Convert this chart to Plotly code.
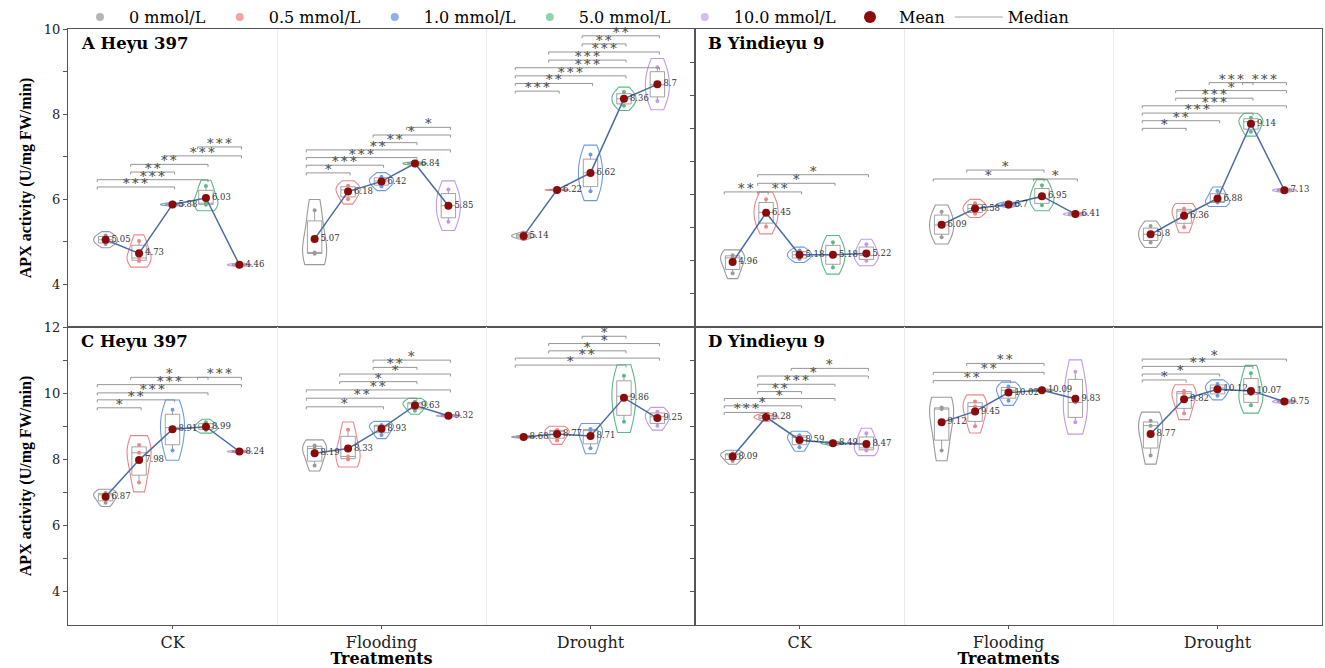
import numpy as np
import plotly.graph_objects as go

categories = ["CK", "Flooding", "Drought"]
concentrations = ["0 mmol/L", "0.5 mmol/L", "1.0 mmol/L", "5.0 mmol/L", "10.0 mmol/L"]
panel_titles = ["A Heyu 397", "B Yindieyu 9", "C Heyu 397", "D Yindieyu 9"]

# replicate values: [category][concentration] -> 3 replicates
A_values = [
    [[4.95, 5.05, 5.15], [4.55, 4.62, 5.02], [5.86, 5.88, 5.90], [5.87, 5.91, 6.31], [4.44, 4.46, 4.48]],
    [[4.72, 4.75, 5.74], [6.00, 6.22, 6.32], [6.30, 6.43, 6.53], [6.82, 6.84, 6.86], [5.47, 5.85, 6.23]],
    [[5.10, 5.14, 5.18], [6.21, 6.22, 6.23], [6.19, 6.62, 7.05], [8.20, 8.36, 8.52], [8.31, 8.69, 9.10]],
]
B_values = [
    [[4.62, 5.09, 5.17], [6.03, 6.46, 6.86], [5.05, 5.18, 5.31], [4.80, 5.18, 5.56], [5.00, 5.16, 5.50]],
    [[5.71, 6.08, 6.48], [6.42, 6.58, 6.74], [6.66, 6.70, 6.74], [6.68, 6.89, 7.28], [6.38, 6.41, 6.44]],
    [[5.55, 5.80, 6.05], [6.01, 6.50, 6.57], [6.76, 6.77, 7.11], [8.90, 9.20, 9.32], [7.10, 7.13, 7.16]],
]
C_values = [
    [[6.69, 6.93, 6.99], [7.30, 8.20, 8.44], [8.27, 8.96, 9.50], [8.89, 8.96, 9.12], [8.22, 8.24, 8.26]],
    [[7.82, 8.33, 8.42], [8.00, 8.09, 8.90], [8.74, 9.01, 9.04], [9.47, 9.68, 9.74], [9.30, 9.32, 9.34]],
    [[8.66, 8.68, 8.70], [8.57, 8.85, 8.89], [8.34, 8.87, 8.92], [9.14, 9.91, 10.53], [9.02, 9.29, 9.44]],
]
D_values = [
    [[7.95, 8.14, 8.18], [9.22, 9.28, 9.34], [8.37, 8.67, 8.73], [8.46, 8.49, 8.52], [8.27, 8.35, 8.79]],
    [[8.27, 9.52, 9.57], [9.00, 9.60, 9.75], [9.77, 10.09, 10.20], [10.07, 10.09, 10.11], [9.12, 9.72, 10.65]],
    [[8.12, 9.02, 9.17], [9.39, 10.00, 10.07], [9.92, 10.16, 10.28], [9.64, 9.97, 10.60], [9.72, 9.75, 9.78]],
]

# significance brackets: (category, group_i, group_j, level, label)
A_sig = [
    (0, 0, 2, 6.29, "***"), (0, 0, 3, 6.46, "***"), (0, 1, 2, 6.64, "**"), (0, 1, 3, 6.82, "**"),
    (0, 2, 4, 7.02, "***"), (0, 3, 4, 7.23, "***"),
    (1, 0, 1, 6.62, "*"), (1, 0, 2, 6.80, "***"), (1, 0, 3, 6.98, "***"), (1, 0, 4, 7.16, "**"),
    (1, 2, 3, 7.33, "**"), (1, 2, 4, 7.51, "*"), (1, 3, 4, 7.69, "*"),
    (2, 0, 1, 8.54, "***"), (2, 0, 2, 8.72, "**"), (2, 0, 3, 8.90, "***"), (2, 0, 4, 9.09, "***"),
    (2, 1, 3, 9.27, "***"), (2, 1, 4, 9.46, "***"), (2, 2, 3, 9.65, "**"), (2, 2, 4, 9.84, "**"),
]
B_sig = [
    (0, 0, 1, 7.08, "**"), (0, 1, 2, 7.08, "**"), (0, 1, 3, 7.34, "*"), (0, 1, 4, 7.60, "*"),
    (1, 0, 3, 7.47, "*"), (1, 3, 4, 7.47, "*"), (1, 1, 3, 7.74, "*"),
    (2, 0, 1, 9.00, "*"), (2, 0, 2, 9.23, "**"), (2, 0, 3, 9.46, "***"), (2, 0, 4, 9.68, "***"),
    (2, 1, 3, 9.91, "***"), (2, 1, 4, 10.14, "*"), (2, 2, 3, 10.38, "***"), (2, 3, 4, 10.38, "***"),
]
C_sig = [
    (0, 0, 1, 9.56, "*"), (0, 0, 2, 9.80, "**"), (0, 0, 3, 10.01, "***"), (0, 0, 4, 10.26, "***"),
    (0, 1, 3, 10.48, "*"), (0, 3, 4, 10.48, "***"),
    (1, 0, 2, 9.59, "*"), (1, 0, 3, 9.85, "**"), (1, 0, 4, 10.10, "**"), (1, 1, 3, 10.35, "*"),
    (1, 1, 4, 10.58, "*"), (1, 2, 3, 10.78, "**"), (1, 2, 4, 11.00, "*"),
    (2, 0, 3, 10.85, "*"), (2, 0, 4, 11.06, "**"), (2, 1, 3, 11.28, "*"), (2, 1, 4, 11.50, "*"),
    (2, 2, 3, 11.72, "*"),
]
D_sig = [
    (0, 0, 1, 9.42, "***"), (0, 0, 2, 9.62, "*"), (0, 0, 3, 9.84, "*"), (0, 1, 2, 10.05, "**"),
    (0, 1, 3, 10.27, "***"), (0, 1, 4, 10.52, "*"), (0, 2, 4, 10.75, "*"),
    (1, 0, 2, 10.38, "**"), (1, 0, 3, 10.63, "**"), (1, 1, 3, 10.90, "**"),
    (2, 0, 1, 10.40, "*"), (2, 0, 2, 10.58, "*"), (2, 0, 3, 10.81, "**"), (2, 0, 4, 11.03, "*"),
]

A_yticks = [4, 5, 6, 7, 8, 9, 10]
A_yticktext = ["4", "", "6", "", "8", "", "10"]
C_yticks = [4, 5, 6, 7, 8, 9, 10, 11, 12]
C_yticktext = ["4", "", "6", "", "8", "", "10", "", "12"]
BD_yticks = [4, 5, 6, 7, 8, 9, 10, 11]

# ---------------- styles ----------------
offsets = [-0.32, -0.16, 0.0, 0.16, 0.32]
line_colors = ["#9a9a9a", "#f08585", "#6c9be6", "#5cba84", "#c29ae6"]
legend_colors = ["#b5b5b5", "#f5a3a3", "#8db2ee", "#92d2ac", "#d6bdf0"]
mean_color = "#8b0a0a"
mean_line_color = "#4a6ca3"
SERIF = "DejaVu Serif"
TIMES = "Liberation Serif"

panels = [
    (A_values, A_sig, "x", "y", (3, 10)),
    (B_values, B_sig, "x2", "y2", (3, 12)),
    (C_values, C_sig, "x3", "y3", (3, 12)),
    (D_values, D_sig, "x4", "y4", (3, 12)),
]
PANEL_H = 298.0


def fmt(v):
    s = f"{v:.2f}".rstrip("0").rstrip(".")
    return s


fig = go.Figure()

for values, sig, xa, ya, yr in panels:
    # violins with inner boxes and points
    for c in range(3):
        for k in range(5):
            vals = values[c][k]
            lo, hi = min(vals), max(vals)
            pad = 0.2 * (hi - lo) + 0.05
            fig.add_trace(go.Violin(
                x=[c + offsets[k]] * len(vals), y=vals, xaxis=xa, yaxis=ya,
                orientation="v", width=0.115, scalemode="width",
                spanmode="manual", span=[lo - pad, hi + pad],
                line=dict(color=line_colors[k], width=1.1),
                fillcolor="rgba(255,255,255,0)",
                box=dict(visible=True, width=0.6, fillcolor="white",
                         line=dict(color="#8c8c8c", width=0.8)),
                meanline=dict(visible=False),
                points="all", pointpos=0, jitter=0,
                marker=dict(size=4, color=line_colors[k]),
                showlegend=False, hoverinfo="skip",
            ))
    # means with connecting line and labels
    for c in range(3):
        xs = [c + o for o in offsets]
        means = [float(np.mean(values[c][k])) for k in range(5)]
        fig.add_trace(go.Scatter(
            x=xs, y=means, xaxis=xa, yaxis=ya, mode="lines+markers+text",
            line=dict(color=mean_line_color, width=1.5),
            marker=dict(color=mean_color, size=8),
            text=[fmt(m) for m in means], textposition="middle right",
            textfont=dict(family=SERIF, size=8.5, color="#333333"),
            showlegend=False, hoverinfo="skip", cliponaxis=False,
        ))
    # significance brackets
    px_per_unit = PANEL_H / (yr[1] - yr[0])
    drop = 2.5 / px_per_unit
    bx, by = [], []
    for (c, i, j, lev, lab) in sig:
        x1 = c + offsets[i] - 0.04
        x2 = c + offsets[j] + 0.01
        bx += [x1, x1, x2, x2, None]
        by += [lev - drop, lev, lev, lev - drop, None]
        fig.add_annotation(
            x=(x1 + x2) / 2, y=lev, xref=xa, yref=ya, text="\u2009".join(lab),
            showarrow=False, yanchor="bottom", yshift=-6,
            font=dict(family=SERIF, size=13, color="#444444"),
        )
    fig.add_trace(go.Scatter(
        x=bx, y=by, xaxis=xa, yaxis=ya, mode="lines",
        line=dict(color="#8a8a8a", width=0.9), showlegend=False, hoverinfo="skip",
    ))

# legend entries
for k in range(5):
    fig.add_trace(go.Scatter(
        x=[None], y=[None], mode="markers", name=concentrations[k],
        marker=dict(size=8, color=legend_colors[k]),
    ))
fig.add_trace(go.Scatter(x=[None], y=[None], mode="markers", name="Mean",
                         marker=dict(size=12, color=mean_color)))
fig.add_trace(go.Scatter(x=[None], y=[None], mode="lines", name="Median",
                         line=dict(color="#d0d0d0", width=2)))

# panel titles
for (values, sig, xa, ya, yr), title in zip(panels, panel_titles):
    fig.add_annotation(
        x=0.017, y=0.99, xref=f"{xa} domain", yref=f"{ya} domain", text=f"<b>{title}</b>",
        showarrow=False, xanchor="left", yanchor="top",
        font=dict(family=SERIF, size=16.5, color="black"),
    )

axis_line = dict(showline=True, linecolor="#555555", linewidth=1.2, mirror=True,
                 zeroline=False, showgrid=False, automargin=False)
minor_grid = dict(tickvals=[0.5, 1.5], showgrid=True, gridcolor="#ebebeb", gridwidth=1, ticks="")

xbase = dict(range=[-0.5, 2.5], tickvals=[0, 1, 2], ticktext=categories, minor=minor_grid, **axis_line)
xtop = dict(xbase, showticklabels=False, ticks="")
xbot = dict(xbase, ticks="outside", ticklen=3, tickcolor="#555555",
            tickfont=dict(family=SERIF, size=16, color="#222222"),
            title=dict(text="<b>Treatments</b>", font=dict(family=SERIF, size=16, color="black"), standoff=2))

ytitle = dict(text="<b>APX activity (U/mg FW/min)</b>", font=dict(family=TIMES, size=16, color="black"), standoff=8)
ybase = dict(ticks="outside", ticklen=4, tickcolor="#555555", tickwidth=1,
             tickfont=dict(family=SERIF, size=13, color="#222222"), **axis_line)

fig.update_layout(
    width=1325, height=668, template="none",
    margin=dict(l=68, r=3, t=29, b=43, autoexpand=False),
    paper_bgcolor="white", plot_bgcolor="white",
    violinmode="overlay",
    xaxis=dict(xtop, domain=[0, 0.5], anchor="y"),
    xaxis2=dict(xtop, domain=[0.5, 1], anchor="y2"),
    xaxis3=dict(xbot, domain=[0, 0.5], anchor="y3"),
    xaxis4=dict(xbot, domain=[0.5, 1], anchor="y4"),
    yaxis=dict(ybase, domain=[0.5, 1], anchor="x", range=[3, 10], tickvals=A_yticks,
               ticktext=A_yticktext, title=ytitle),
    yaxis2=dict(ybase, domain=[0.5, 1], anchor="x2", range=[3, 12], tickvals=BD_yticks,
                showticklabels=False),
    yaxis3=dict(ybase, domain=[0, 0.5], anchor="x3", range=[3, 12], tickvals=C_yticks,
                ticktext=C_yticktext, title=ytitle),
    yaxis4=dict(ybase, domain=[0, 0.5], anchor="x4", range=[3, 12], tickvals=BD_yticks,
                showticklabels=False),
    showlegend=True,
    legend=dict(orientation="h", x=0.0024, xanchor="left", y=1.0201, yanchor="middle",
                font=dict(family=SERIF, size=16, color="black"), bgcolor="rgba(0,0,0,0)",
                itemwidth=48, tracegroupgap=0),
)

fig.write_html("out.html")
